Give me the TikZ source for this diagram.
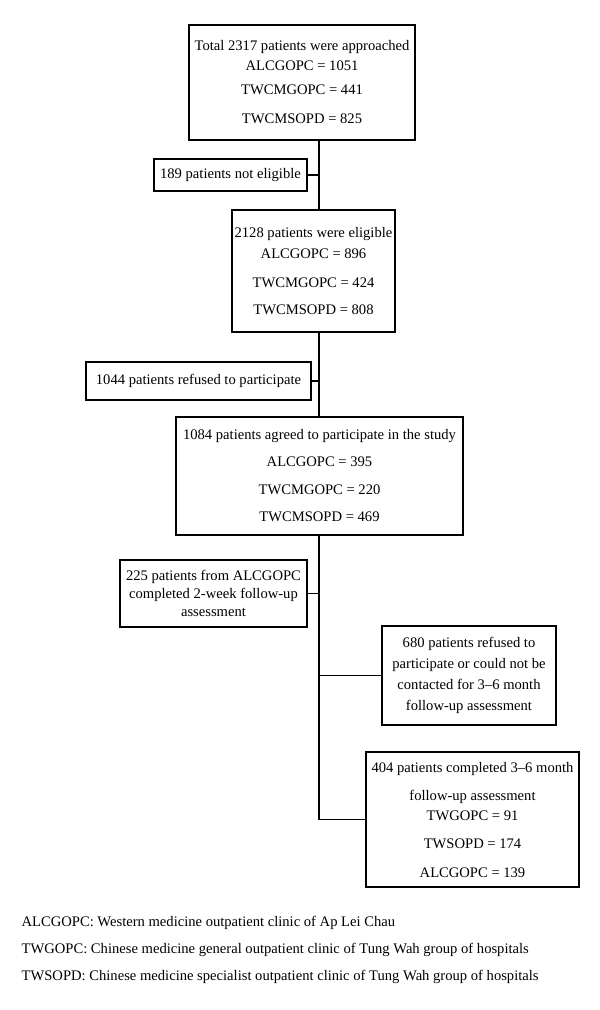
\documentclass[tikz,border=0pt]{standalone}
\usepackage{fontspec}
\setmainfont{Liberation Serif}
\usetikzlibrary{positioning}

\begin{document}
\begin{tikzpicture}[x=1pt, y=-1pt, line width=1.3pt,
        font=\fontsize{14.6}{18}\selectfont,
        box/.style={draw, inner sep=0pt, align=center}]
        \useasboundingbox (0,0) rectangle (600,1010);
        \coordinate (spine) at (319,0);
        % main column
        \node [box, minimum width=226pt, minimum height=115pt] (total) at (302,82.5)
            {Total 2317 patients were approached\\[2pt] ALCGOPC = 1051\\[6pt] TWCMGOPC = 441\\[11pt] TWCMSOPD = 825};
        \node [box, minimum width=163pt, minimum height=122pt] (eligible) at (313.5,271)
            {2128 patients were eligible\\[3pt] ALCGOPC = 896\\[11pt] TWCMGOPC = 424\\[9pt] TWCMSOPD = 808};
        \node [box, minimum width=287pt, minimum height=118pt] (agreed) at (319.5,476)
            {1084 patients agreed to participate in the study\\[9pt] ALCGOPC = 395\\[10pt] TWCMGOPC = 220\\[9pt] TWCMSOPD = 469};
        \node [box, minimum width=213pt, minimum height=135pt] (completed) at (472.5,819.5)
            {404 patients completed 3--6 month\\[10pt] follow-up assessment\\[2pt] TWGOPC = 91\\[10pt] TWSOPD = 174\\[11pt] ALCGOPC = 139};
        % side boxes
        \node [box, minimum width=153pt, minimum height=32pt] (noteligible) at (230.5,175) {189 patients not eligible};
        \node [box, minimum width=225pt, minimum height=38pt] (refused) at (198.5,381) {1044 patients refused to participate};
        \node [box, minimum width=187pt, minimum height=67pt] (twoweek) at (213.5,593.5)
            {225 patients from ALCGOPC\\ completed 2-week follow-up\\ assessment};
        \node [box, minimum width=174pt, minimum height=99pt] (lost) at (469,675.5)
            {680 patients refused to\\[3pt] participate or could not be\\[3pt] contacted for 3--6 month\\[3pt] follow-up assessment};
        % connectors
        \draw (total.south -| spine) -- (eligible.north -| spine);
        \draw (eligible.south -| spine) -- (agreed.north -| spine);
        \draw (agreed.south -| spine) |- (completed.west);
        \draw (noteligible.east) -- (noteligible.east -| spine);
        \draw (refused.east) -- (refused.east -| spine);
        \draw (twoweek.east) -- (twoweek.east -| spine);
        \draw (lost.west) -- (lost.west -| spine);
        % legend
        \node [anchor=west, align=left, inner sep=0pt] (legend) at (21,950)
            {ALCGOPC: Western medicine outpatient clinic of Ap Lei Chau\\[9pt]
             TWGOPC: Chinese medicine general outpatient clinic of Tung Wah group of hospitals\\[9pt]
             TWSOPD: Chinese medicine specialist outpatient clinic of Tung Wah group of hospitals};
    \end{tikzpicture}
\end{document}
